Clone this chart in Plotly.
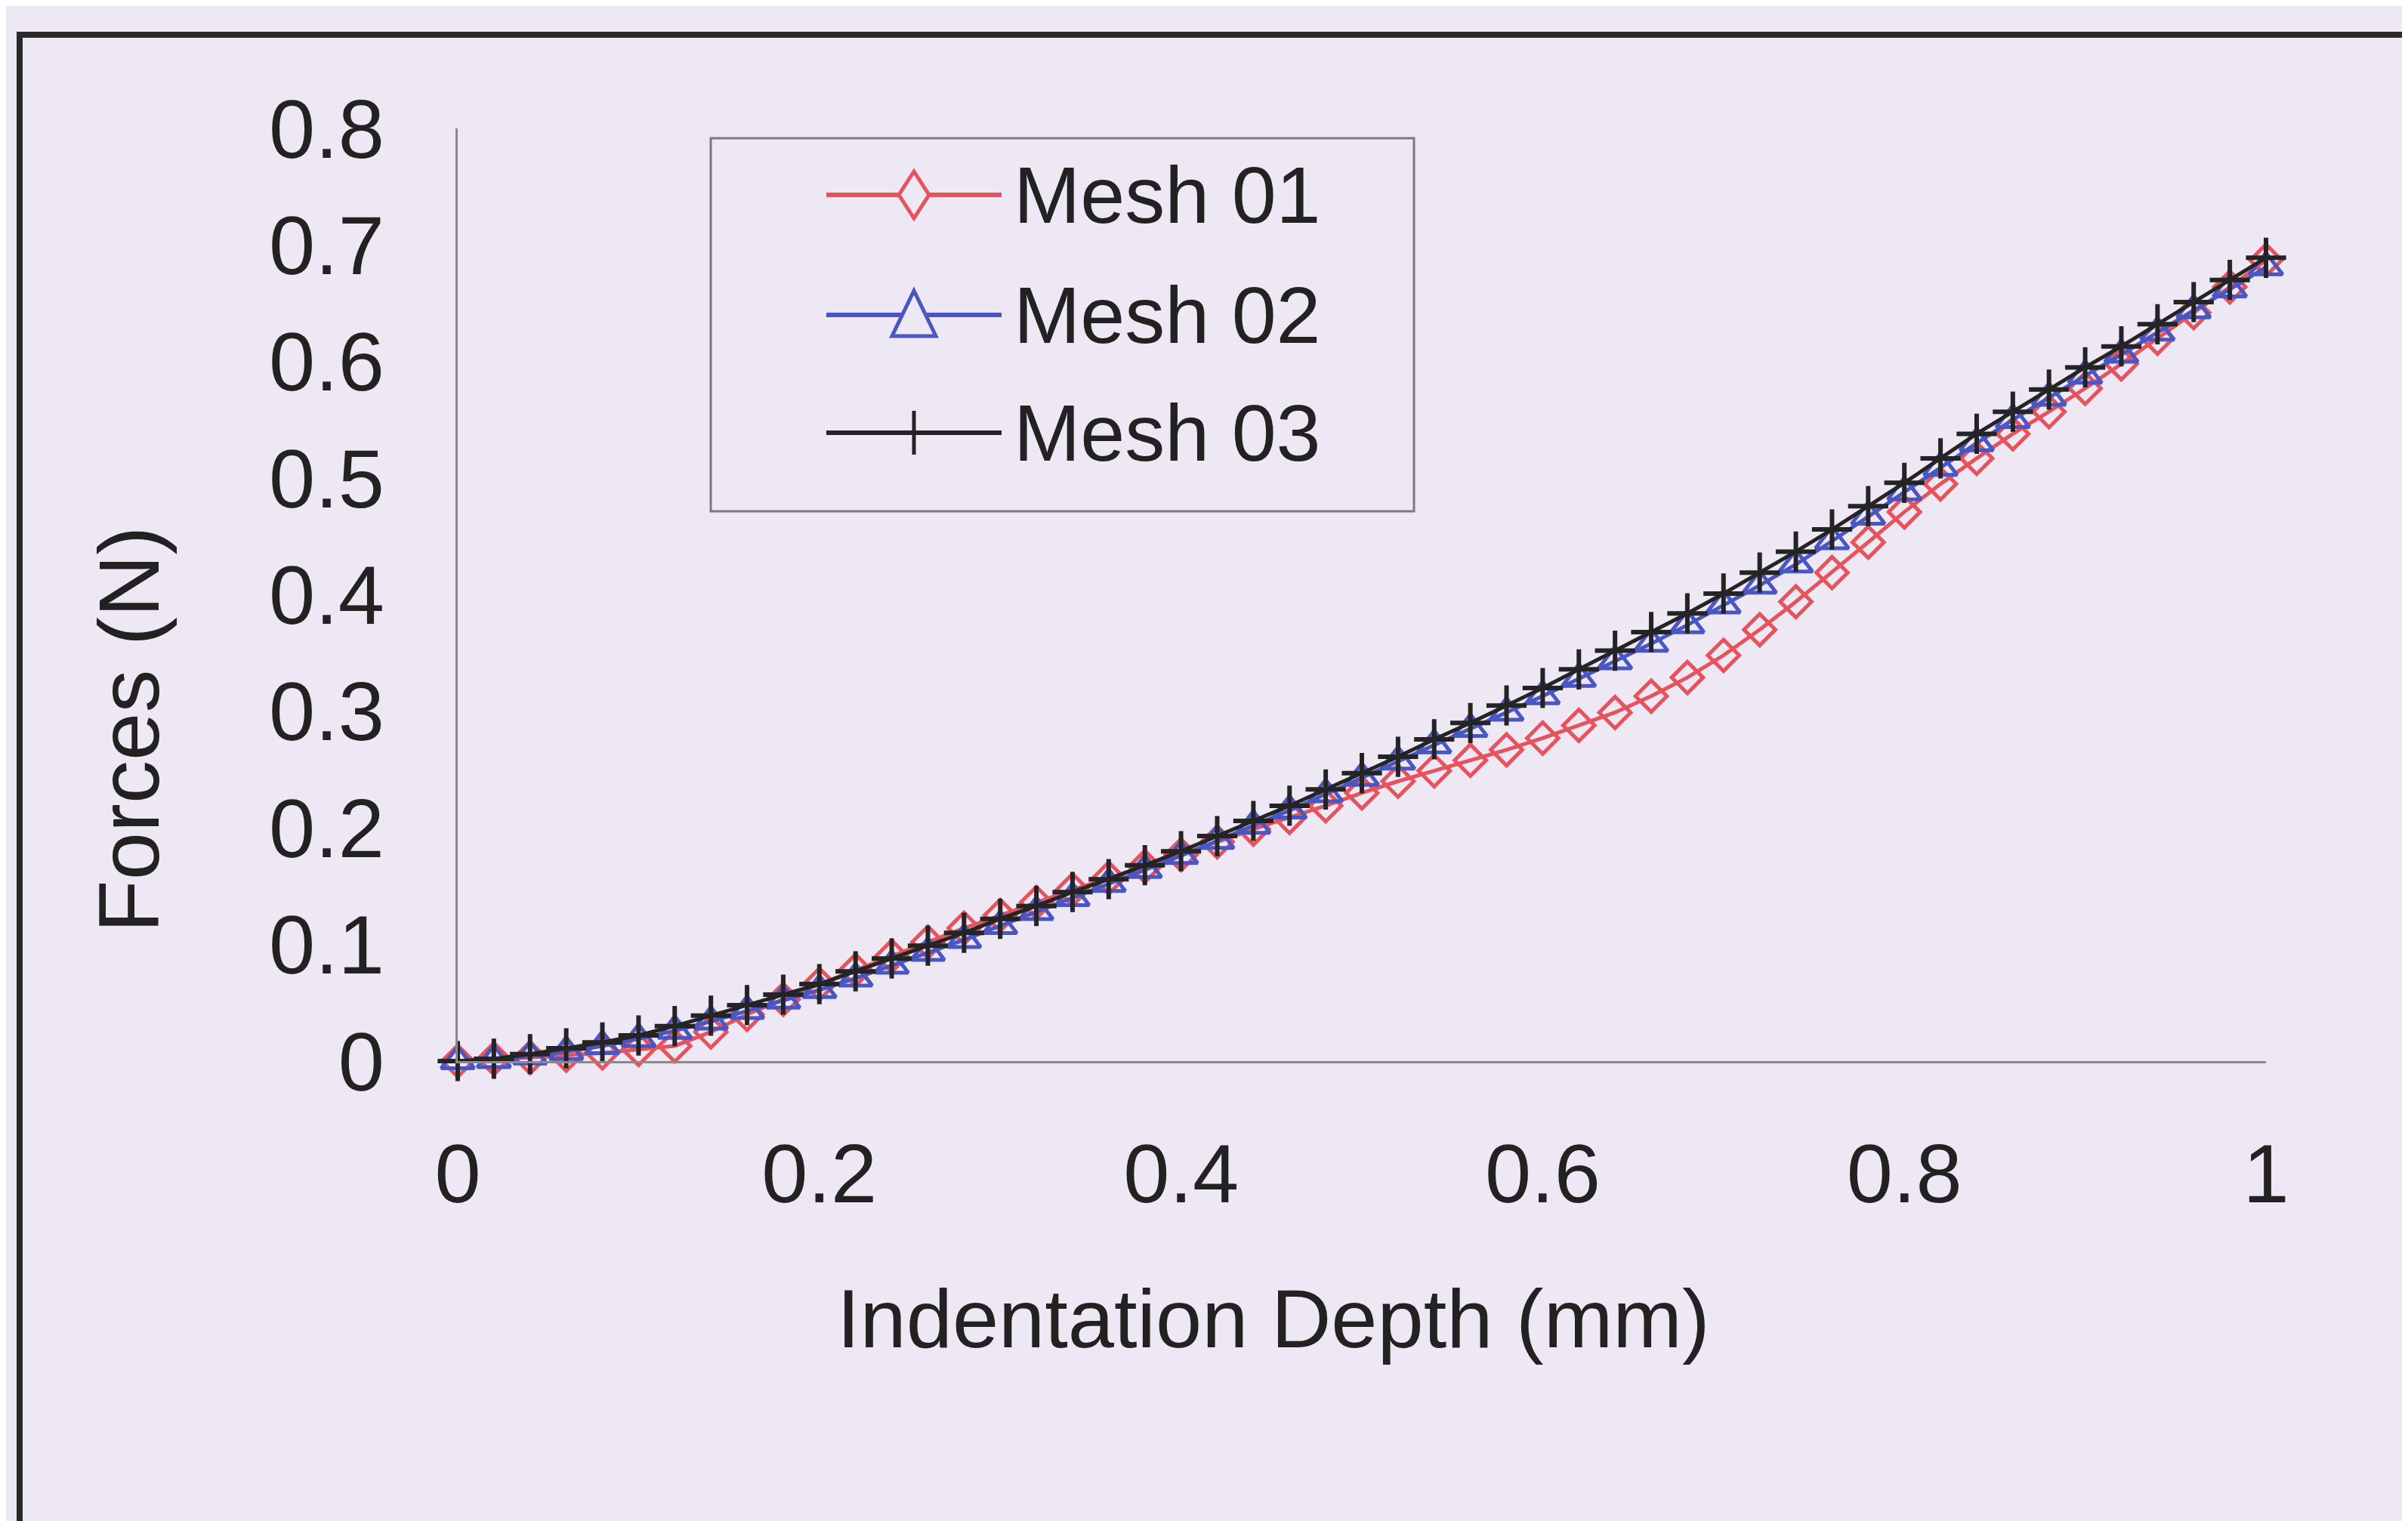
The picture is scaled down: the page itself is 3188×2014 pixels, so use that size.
import plotly.graph_objects as go

# ---------------- data ----------------
depth = [0.00, 0.02, 0.04, 0.06, 0.08, 0.10, 0.12, 0.14, 0.16, 0.18,
         0.20, 0.22, 0.24, 0.26, 0.28, 0.30, 0.32, 0.34, 0.36, 0.38,
         0.40, 0.42, 0.44, 0.46, 0.48, 0.50, 0.52, 0.54, 0.56, 0.58,
         0.60, 0.62, 0.64, 0.66, 0.68, 0.70, 0.72, 0.74, 0.76, 0.78,
         0.80, 0.82, 0.84, 0.86, 0.88, 0.90, 0.92, 0.94, 0.96, 0.98, 1.00]

mesh01 = [0.000, 0.002, 0.003, 0.005, 0.007, 0.010, 0.013, 0.025, 0.040, 0.053,
          0.066, 0.078, 0.090, 0.102, 0.114, 0.125, 0.136, 0.147, 0.157, 0.167,
          0.177, 0.188, 0.199, 0.209, 0.219, 0.230, 0.240, 0.249, 0.258, 0.267,
          0.277, 0.288, 0.299, 0.313, 0.329, 0.348, 0.370, 0.394, 0.419, 0.445,
          0.471, 0.495, 0.517, 0.538, 0.557, 0.577, 0.598, 0.620, 0.642, 0.664, 0.687]

mesh02 = [0.000, 0.001, 0.004, 0.008, 0.013, 0.019, 0.026, 0.034, 0.043, 0.052,
          0.061, 0.071, 0.082, 0.093, 0.104, 0.116, 0.128, 0.140, 0.152, 0.164,
          0.176, 0.189, 0.202, 0.215, 0.229, 0.243, 0.257, 0.271, 0.285, 0.299,
          0.313, 0.328, 0.343, 0.358, 0.374, 0.391, 0.408, 0.426, 0.446, 0.467,
          0.488, 0.509, 0.530, 0.550, 0.569, 0.588, 0.606, 0.625, 0.644, 0.662, 0.681]

mesh03 = [0.000, 0.002, 0.006, 0.011, 0.016, 0.022, 0.030, 0.039, 0.048, 0.057,
          0.066, 0.077, 0.088, 0.099, 0.110, 0.122, 0.133, 0.145, 0.156, 0.168,
          0.180, 0.193, 0.206, 0.219, 0.233, 0.247, 0.261, 0.276, 0.290, 0.305,
          0.320, 0.336, 0.352, 0.368, 0.384, 0.401, 0.419, 0.437, 0.456, 0.476,
          0.496, 0.517, 0.538, 0.557, 0.576, 0.595, 0.613, 0.632, 0.651, 0.670, 0.689]

series_names = ["Mesh 01", "Mesh 02", "Mesh 03"]
x_ticks = [0, 0.2, 0.4, 0.6, 0.8, 1]
x_tick_labels = ["0", "0.2", "0.4", "0.6", "0.8", "1"]
y_ticks = [0, 0.1, 0.2, 0.3, 0.4, 0.5, 0.6, 0.7, 0.8]
y_tick_labels = ["0", "0.1", "0.2", "0.3", "0.4", "0.5", "0.6", "0.7", "0.8"]
x_title = "Indentation Depth (mm)"
y_title = "Forces (N)"

# ---------------- styles ----------------
W, H = 3188, 2014
DX, DY = -6, -8          # global fine offset
L, R, T, B = 598, 196, 162 + 0, 617
BG = "#EEE7F4"
FONT = "Liberation Sans, Arial, sans-serif"
TXT = "#222222"
RED = "#E5535C"
BLUE = "#4A56C2"
BLACK = "#242424"
AXIS = "#8a8a8a"

pw, ph = W - L - R, H - T - B


def px_x(px):
    return (px + DX - L) / pw


def px_y(py):
    return (H - B - (py + DY)) / ph


fig = go.Figure()
fig.add_trace(go.Scatter(
    x=depth, y=mesh01, name=series_names[0], mode="lines+markers",
    line=dict(color=RED, width=5),
    marker=dict(symbol="diamond-open", size=32, color=RED, line=dict(width=5, color=RED)),
    cliponaxis=False, showlegend=False))
fig.add_trace(go.Scatter(
    x=depth, y=mesh02, name=series_names[1], mode="lines+markers",
    line=dict(color=BLUE, width=5),
    marker=dict(symbol="triangle-up-open", size=38, color=BLUE, line=dict(width=5, color=BLUE)),
    cliponaxis=False, showlegend=False))
fig.add_trace(go.Scatter(
    x=depth, y=mesh03, name=series_names[2], mode="lines+markers",
    line=dict(color=BLACK, width=5),
    marker=dict(symbol="cross-thin-open", size=38, color=BLACK, line=dict(width=6, color=BLACK)),
    cliponaxis=False, showlegend=False))

shapes = []
# outer frame of the figure
shapes.append(dict(type="rect", xref="paper", yref="paper",
                   x0=px_x(24), x1=px_x(3260), y0=px_y(2030), y1=px_y(46),
                   line=dict(color="#2a2a2a", width=8), layer="below"))

# manual legend
leg_box = (939, 183, 1870, 677)
shapes.append(dict(type="rect", xref="paper", yref="paper",
                   x0=px_x(leg_box[0]), x1=px_x(leg_box[2]),
                   y0=px_y(leg_box[3]), y1=px_y(leg_box[1]),
                   line=dict(color="#7a7a7a", width=3), fillcolor=BG, layer="above"))
rows = [258, 417, 573]
colors = [RED, BLUE, BLACK]
key_paths = [
    "M -20,0 L 0,31 L 20,0 L 0,-31 Z",
    "M -29,-28 L 29,-28 L 0,32 Z",
    "M 0,-29 L 0,29",
]
annotations = []
for name, row, col, path in zip(series_names, rows, colors, key_paths):
    shapes.append(dict(type="line", xref="paper", yref="paper",
                       x0=px_x(1092), x1=px_x(1324), y0=px_y(row), y1=px_y(row),
                       line=dict(color=col, width=6), layer="above"))
    shapes.append(dict(type="path", xref="paper", yref="paper",
                       xsizemode="pixel", ysizemode="pixel",
                       xanchor=px_x(1208), yanchor=px_y(row),
                       path=path, line=dict(color=col, width=5),
                       fillcolor=BG if col != BLACK else None, layer="above"))
    annotations.append(dict(xref="paper", yref="paper", x=px_x(1338), y=px_y(row),
                            xanchor="left", yanchor="middle", showarrow=False,
                            text=name, font=dict(family=FONT, size=106, color=TXT)))

annotations.append(dict(xref="paper", yref="paper", x=px_x(1684), y=px_y(1745),
                        xanchor="center", yanchor="middle", showarrow=False,
                        text=x_title, font=dict(family=FONT, size=110, color=TXT)))
annotations.append(dict(xref="paper", yref="paper", x=px_x(168), y=px_y(966),
                        xanchor="center", yanchor="middle", showarrow=False, textangle=-90,
                        text=y_title, font=dict(family=FONT, size=114, color=TXT)))

fig.update_layout(
    width=W, height=H,
    margin=dict(l=L, r=R, t=T, b=B, pad=0),
    paper_bgcolor=BG, plot_bgcolor=BG,
    shapes=shapes, annotations=annotations,
    showlegend=False,
    xaxis=dict(range=[0, 1], autorange=False, tickvals=x_ticks, ticktext=x_tick_labels,
               showgrid=False, zeroline=False, showline=True, linecolor=AXIS, linewidth=3,
               ticks="", ticklabelstandoff=52,
               tickfont=dict(family=FONT, size=110, color=TXT)),
    yaxis=dict(range=[0, 0.8], autorange=False, tickvals=y_ticks, ticktext=y_tick_labels,
               showgrid=False, zeroline=False, showline=True, linecolor=AXIS, linewidth=3,
               ticks="", ticklabelstandoff=72,
               tickfont=dict(family=FONT, size=110, color=TXT)),
)

fig.write_html("out.html")
